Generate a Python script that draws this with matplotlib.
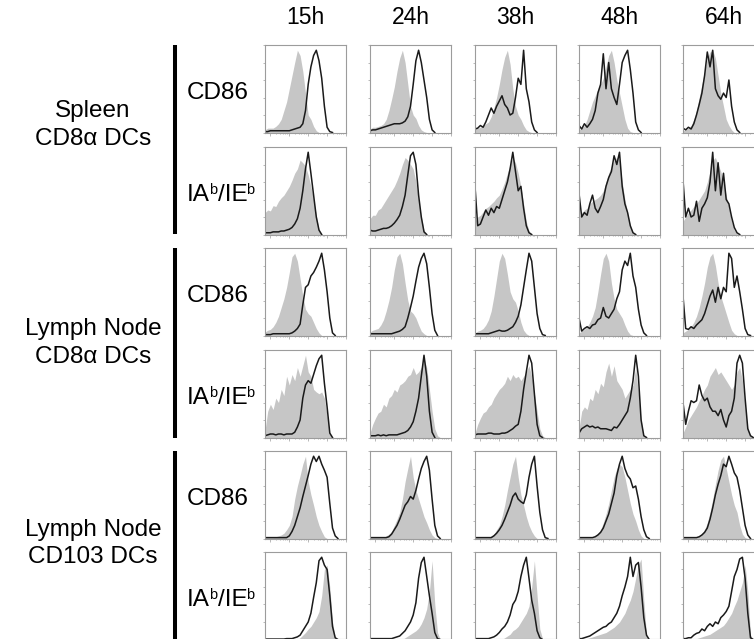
import numpy as np
import matplotlib
matplotlib.use("Agg")
import matplotlib.pyplot as plt

plt.rcParams["font.family"] = ["Liberation Sans", "DejaVu Sans"]

# ---------- Data (fraction of panel height, 31 channels across each panel) ----------
TIMES = ["15h", "24h", "38h", "48h", "64h"]
GROUPS = [("Spleen", "CD8\u03b1 DCs"), ("Lymph Node", "CD8\u03b1 DCs"), ("Lymph Node", "CD103 DCs")]
# marker labels as (text, is_superscript) pieces
MARKERS = [[("CD86", False)], [("IA", False), ("b", True), ("/IE", False), ("b", True)]]

# Spleen CD8a, CD86
spl_cd86_ctrl = [
    [0.03, 0.05, 0.05, 0.05, 0.07, 0.10, 0.15, 0.25, 0.35, 0.50, 0.65, 0.80, 0.94, 0.88, 0.70, 0.45, 0.20, 0.15, 0.07, 0.02, 0],
    [0.04, 0.06, 0.06, 0.07, 0.08, 0.10, 0.15, 0.25, 0.38, 0.52, 0.70, 0.85, 0.94, 0.80, 0.55, 0.30, 0.20, 0.16, 0.08, 0.03, 0.01, 0],
    [0.04, 0.05, 0.06, 0.08, 0.10, 0.12, 0.18, 0.28, 0.40, 0.55, 0.72, 0.86, 0.94, 0.78, 0.50, 0.30, 0.20, 0.15, 0.08, 0.03, 0.01, 0],
    [0.03, 0.05, 0.08, 0.15, 0.25, 0.35, 0.42, 0.50, 0.55, 0.62, 0.75, 0.88, 0.94, 0.80, 0.60, 0.45, 0.30, 0.15, 0.05, 0.01, 0],
    [0.02, 0.03, 0.05, 0.08, 0.15, 0.25, 0.40, 0.55, 0.70, 0.85, 0.92, 0.94, 0.85, 0.65, 0.45, 0.30, 0.15, 0.08, 0.03, 0],
]
spl_cd86_stim = [
    [0.01, 0.01, 0.02, 0.02, 0.02, 0.02, 0.02, 0.02, 0.02, 0.02, 0.03, 0.04, 0.05, 0.06, 0.10, 0.25, 0.55, 0.75, 0.88, 0.94, 0.82, 0.62, 0.30, 0.06, 0.01, 0],
    [0.02, 0.03, 0.03, 0.04, 0.05, 0.06, 0.07, 0.08, 0.09, 0.10, 0.10, 0.10, 0.11, 0.13, 0.18, 0.30, 0.55, 0.82, 0.94, 0.80, 0.60, 0.40, 0.15, 0.03, 0],
    [0.04, 0.05, 0.08, 0.06, 0.12, 0.20, 0.28, 0.22, 0.30, 0.36, 0.42, 0.32, 0.28, 0.20, 0.22, 0.40, 0.62, 0.55, 0.94, 0.50, 0.35, 0.12, 0.03, 0],
    [0.08, 0.04, 0.10, 0.06, 0.10, 0.15, 0.25, 0.45, 0.55, 0.90, 0.50, 0.80, 0.50, 0.40, 0.32, 0.55, 0.80, 0.88, 0.94, 0.72, 0.45, 0.12, 0.03, 0],
    [0.05, 0.03, 0.06, 0.04, 0.10, 0.20, 0.32, 0.45, 0.65, 0.92, 0.75, 0.94, 0.50, 0.42, 0.38, 0.45, 0.40, 0.60, 0.30, 0.12, 0.03, 0],
]

# Spleen CD8a, IAb/IEb
spl_mhc_ctrl = [
    [0.25, 0.28, 0.27, 0.33, 0.32, 0.38, 0.42, 0.45, 0.50, 0.55, 0.62, 0.70, 0.75, 0.85, 0.82, 0.78, 0.68, 0.55, 0.40, 0.22, 0.05, 0],
    [0.18, 0.22, 0.22, 0.28, 0.30, 0.35, 0.40, 0.45, 0.50, 0.55, 0.62, 0.70, 0.80, 0.88, 0.85, 0.80, 0.75, 0.60, 0.40, 0.20, 0.05, 0],
    [0.15, 0.20, 0.22, 0.26, 0.30, 0.32, 0.35, 0.38, 0.42, 0.45, 0.52, 0.60, 0.70, 0.80, 0.88, 0.82, 0.70, 0.55, 0.35, 0.15, 0.04, 0],
    [0.20, 0.25, 0.28, 0.30, 0.35, 0.38, 0.40, 0.42, 0.45, 0.50, 0.60, 0.70, 0.78, 0.85, 0.88, 0.85, 0.60, 0.40, 0.25, 0.10, 0.02, 0],
    [0.15, 0.20, 0.25, 0.28, 0.32, 0.35, 0.40, 0.45, 0.50, 0.60, 0.72, 0.85, 0.88, 0.80, 0.72, 0.60, 0.45, 0.30, 0.15, 0.05, 0.01, 0],
]
spl_mhc_stim = [
    [0.02, 0.02, 0.02, 0.03, 0.03, 0.03, 0.04, 0.04, 0.05, 0.06, 0.08, 0.12, 0.18, 0.30, 0.50, 0.75, 0.94, 0.70, 0.45, 0.20, 0.05, 0],
    [0.05, 0.04, 0.04, 0.05, 0.06, 0.07, 0.07, 0.08, 0.10, 0.13, 0.17, 0.22, 0.32, 0.45, 0.68, 0.90, 0.94, 0.80, 0.45, 0.20, 0.03, 0],
    [0.55, 0.10, 0.12, 0.20, 0.28, 0.22, 0.30, 0.25, 0.32, 0.30, 0.40, 0.50, 0.60, 0.75, 0.94, 0.72, 0.50, 0.55, 0.30, 0.10, 0.02, 0],
    [0.47, 0.20, 0.25, 0.22, 0.35, 0.45, 0.30, 0.25, 0.32, 0.40, 0.55, 0.65, 0.72, 0.90, 0.80, 0.94, 0.55, 0.35, 0.25, 0.10, 0.02, 0],
    [0.62, 0.20, 0.30, 0.20, 0.22, 0.38, 0.15, 0.30, 0.35, 0.42, 0.60, 0.94, 0.50, 0.82, 0.45, 0.70, 0.40, 0.35, 0.20, 0.08, 0.02, 0],
]

# Lymph node CD8a, CD86
ln8_cd86_ctrl = [
    [0.04, 0.06, 0.07, 0.10, 0.15, 0.22, 0.32, 0.42, 0.55, 0.72, 0.90, 0.94, 0.85, 0.65, 0.45, 0.30, 0.25, 0.22, 0.15, 0.08, 0.03, 0],
    [0.04, 0.06, 0.07, 0.08, 0.12, 0.18, 0.28, 0.40, 0.55, 0.75, 0.90, 0.94, 0.82, 0.60, 0.40, 0.28, 0.25, 0.20, 0.12, 0.05, 0.02, 0],
    [0.03, 0.05, 0.06, 0.08, 0.12, 0.18, 0.28, 0.45, 0.65, 0.85, 0.94, 0.88, 0.70, 0.50, 0.42, 0.38, 0.28, 0.15, 0.06, 0.02, 0],
    [0.03, 0.05, 0.07, 0.10, 0.15, 0.22, 0.32, 0.50, 0.70, 0.88, 0.94, 0.85, 0.60, 0.42, 0.30, 0.25, 0.20, 0.12, 0.05, 0.01, 0],
    [0.03, 0.05, 0.07, 0.10, 0.15, 0.22, 0.32, 0.45, 0.60, 0.78, 0.90, 0.94, 0.80, 0.60, 0.45, 0.35, 0.25, 0.15, 0.06, 0.02, 0],
]
ln8_cd86_stim = [
    [0.01, 0.01, 0.01, 0.02, 0.02, 0.02, 0.02, 0.02, 0.02, 0.02, 0.03, 0.05, 0.08, 0.13, 0.35, 0.55, 0.58, 0.68, 0.72, 0.78, 0.85, 0.94, 0.75, 0.50, 0.20, 0.03, 0],
    [0.02, 0.02, 0.02, 0.02, 0.02, 0.02, 0.02, 0.02, 0.02, 0.03, 0.04, 0.05, 0.07, 0.10, 0.20, 0.32, 0.45, 0.62, 0.78, 0.88, 0.94, 0.82, 0.55, 0.25, 0.06, 0],
    [0.02, 0.02, 0.02, 0.02, 0.02, 0.02, 0.03, 0.04, 0.05, 0.06, 0.05, 0.05, 0.06, 0.08, 0.10, 0.15, 0.22, 0.35, 0.55, 0.75, 0.94, 0.85, 0.55, 0.25, 0.08, 0.01, 0],
    [0.20, 0.05, 0.08, 0.10, 0.08, 0.12, 0.13, 0.18, 0.20, 0.32, 0.22, 0.20, 0.25, 0.30, 0.42, 0.50, 0.75, 0.85, 0.80, 0.94, 0.68, 0.55, 0.30, 0.12, 0.03, 0],
    [0.45, 0.08, 0.07, 0.10, 0.08, 0.12, 0.15, 0.18, 0.25, 0.35, 0.45, 0.52, 0.38, 0.55, 0.42, 0.55, 0.50, 0.94, 0.88, 0.55, 0.68, 0.50, 0.30, 0.08, 0.01, 0],
]

# Lymph node CD8a, IAb/IEb
ln8_mhc_ctrl = [
    [0.08, 0.30, 0.38, 0.32, 0.45, 0.40, 0.55, 0.48, 0.70, 0.60, 0.72, 0.65, 0.80, 0.70, 0.82, 0.94, 0.75, 0.70, 0.55, 0.52, 0.50, 0.52, 0.45, 0.25, 0.04, 0],
    [0.05, 0.15, 0.22, 0.28, 0.30, 0.38, 0.35, 0.45, 0.48, 0.55, 0.52, 0.60, 0.62, 0.65, 0.70, 0.72, 0.80, 0.72, 0.75, 0.80, 0.90, 0.80, 0.55, 0.30, 0.10, 0.02, 0],
    [0.05, 0.15, 0.22, 0.28, 0.30, 0.35, 0.38, 0.45, 0.50, 0.55, 0.58, 0.62, 0.70, 0.65, 0.72, 0.68, 0.70, 0.65, 0.70, 0.75, 0.82, 0.70, 0.50, 0.30, 0.10, 0.02, 0],
    [0.10, 0.30, 0.35, 0.32, 0.45, 0.42, 0.55, 0.50, 0.62, 0.58, 0.75, 0.85, 0.70, 0.82, 0.65, 0.60, 0.55, 0.45, 0.50, 0.55, 0.60, 0.80, 0.50, 0.20, 0.02, 0],
    [0.05, 0.12, 0.20, 0.25, 0.30, 0.35, 0.42, 0.48, 0.55, 0.60, 0.70, 0.75, 0.80, 0.72, 0.75, 0.70, 0.65, 0.60, 0.55, 0.60, 0.75, 0.80, 0.65, 0.35, 0.10, 0.02, 0],
]
ln8_mhc_stim = [
    [0.02, 0.03, 0.04, 0.04, 0.03, 0.04, 0.04, 0.03, 0.04, 0.04, 0.04, 0.06, 0.12, 0.20, 0.45, 0.60, 0.65, 0.62, 0.72, 0.82, 0.90, 0.94, 0.62, 0.35, 0.05, 0],
    [0.02, 0.02, 0.02, 0.03, 0.02, 0.03, 0.02, 0.03, 0.03, 0.03, 0.03, 0.04, 0.05, 0.06, 0.08, 0.12, 0.18, 0.30, 0.45, 0.70, 0.94, 0.70, 0.30, 0.06, 0],
    [0.03, 0.04, 0.04, 0.04, 0.04, 0.05, 0.05, 0.04, 0.04, 0.04, 0.05, 0.05, 0.06, 0.08, 0.10, 0.13, 0.15, 0.30, 0.55, 0.75, 0.94, 0.85, 0.50, 0.15, 0.02, 0],
    [0.05, 0.10, 0.12, 0.14, 0.12, 0.13, 0.11, 0.12, 0.10, 0.10, 0.10, 0.09, 0.08, 0.12, 0.11, 0.15, 0.20, 0.25, 0.30, 0.45, 0.65, 0.94, 0.70, 0.20, 0.02, 0],
    [0.40, 0.15, 0.30, 0.42, 0.40, 0.42, 0.60, 0.48, 0.42, 0.45, 0.35, 0.30, 0.30, 0.25, 0.32, 0.20, 0.12, 0.25, 0.30, 0.45, 0.85, 0.94, 0.85, 0.45, 0.10, 0.02, 0],
]

# Lymph node CD103, CD86
ln103_cd86_ctrl = [
    [0.01, 0.01, 0.01, 0.01, 0.02, 0.03, 0.04, 0.06, 0.10, 0.15, 0.25, 0.45, 0.60, 0.72, 0.85, 0.94, 0.65, 0.50, 0.38, 0.25, 0.15, 0.08, 0.02, 0],
    [0.01, 0.01, 0.01, 0.01, 0.01, 0.01, 0.03, 0.05, 0.08, 0.15, 0.22, 0.30, 0.45, 0.65, 0.80, 0.94, 0.70, 0.55, 0.45, 0.35, 0.25, 0.18, 0.10, 0.04, 0.01, 0],
    [0.01, 0.01, 0.01, 0.01, 0.01, 0.01, 0.03, 0.05, 0.10, 0.15, 0.25, 0.38, 0.55, 0.70, 0.85, 0.94, 0.70, 0.50, 0.38, 0.25, 0.15, 0.08, 0.03, 0],
    [0.01, 0.01, 0.01, 0.01, 0.01, 0.01, 0.03, 0.06, 0.10, 0.18, 0.28, 0.40, 0.55, 0.70, 0.80, 0.85, 0.82, 0.70, 0.55, 0.40, 0.28, 0.20, 0.10, 0.03, 0],
    [0.01, 0.01, 0.01, 0.01, 0.01, 0.01, 0.03, 0.06, 0.10, 0.18, 0.30, 0.45, 0.62, 0.78, 0.90, 0.94, 0.80, 0.65, 0.50, 0.38, 0.30, 0.15, 0.05, 0.01, 0],
]
ln103_cd86_stim = [
    [0.01, 0.01, 0.01, 0.01, 0.01, 0.01, 0.01, 0.01, 0.01, 0.03, 0.08, 0.15, 0.25, 0.35, 0.48, 0.60, 0.72, 0.85, 0.94, 0.88, 0.94, 0.85, 0.78, 0.70, 0.40, 0.12, 0.03, 0],
    [0.01, 0.01, 0.01, 0.01, 0.01, 0.01, 0.01, 0.02, 0.05, 0.10, 0.15, 0.22, 0.30, 0.38, 0.42, 0.48, 0.45, 0.55, 0.68, 0.80, 0.88, 0.94, 0.78, 0.45, 0.15, 0.03, 0],
    [0.01, 0.01, 0.01, 0.01, 0.01, 0.01, 0.01, 0.03, 0.06, 0.10, 0.15, 0.22, 0.30, 0.38, 0.48, 0.52, 0.45, 0.42, 0.40, 0.50, 0.70, 0.85, 0.94, 0.60, 0.30, 0.10, 0.01, 0],
    [0.01, 0.01, 0.01, 0.01, 0.01, 0.01, 0.02, 0.04, 0.07, 0.12, 0.20, 0.28, 0.40, 0.52, 0.72, 0.85, 0.94, 0.80, 0.72, 0.68, 0.58, 0.60, 0.45, 0.25, 0.10, 0.02, 0],
    [0.01, 0.01, 0.01, 0.01, 0.01, 0.01, 0.02, 0.04, 0.07, 0.12, 0.22, 0.35, 0.50, 0.62, 0.72, 0.85, 0.82, 0.94, 0.85, 0.75, 0.70, 0.55, 0.35, 0.15, 0.04, 0],
]

# Lymph node CD103, IAb/IEb
ln103_mhc_ctrl = [
    [0, 0, 0, 0, 0, 0, 0, 0, 0, 0, 0, 0, 0, 0.02, 0.05, 0.08, 0.12, 0.15, 0.20, 0.25, 0.32, 0.50, 0.80, 0.85, 0.60, 0.20, 0.02, 0],
    [0, 0, 0, 0, 0, 0, 0, 0, 0, 0, 0, 0, 0, 0.02, 0.04, 0.06, 0.08, 0.10, 0.13, 0.18, 0.25, 0.35, 0.55, 0.90, 0.40, 0.08, 0],
    [0, 0, 0, 0, 0, 0, 0, 0, 0, 0, 0, 0.02, 0.04, 0.06, 0.10, 0.12, 0.15, 0.20, 0.25, 0.30, 0.38, 0.60, 0.90, 0.50, 0.12, 0.01, 0],
    [0.01, 0.01, 0.01, 0.01, 0.02, 0.03, 0.04, 0.05, 0.06, 0.07, 0.08, 0.10, 0.12, 0.14, 0.17, 0.20, 0.25, 0.30, 0.38, 0.45, 0.55, 0.70, 0.85, 0.92, 0.45, 0.05, 0],
    [0.01, 0.01, 0.01, 0.01, 0.01, 0.01, 0.02, 0.03, 0.04, 0.05, 0.06, 0.08, 0.10, 0.12, 0.14, 0.16, 0.20, 0.25, 0.30, 0.38, 0.45, 0.55, 0.65, 0.85, 0.55, 0.05, 0],
]
ln103_mhc_stim = [
    [0.005, 0.005, 0.005, 0.005, 0.005, 0.005, 0.005, 0.005, 0.01, 0.01, 0.01, 0.02, 0.03, 0.05, 0.10, 0.15, 0.20, 0.30, 0.48, 0.65, 0.90, 0.94, 0.85, 0.80, 0.50, 0.15, 0.02, 0],
    [0.01, 0.01, 0.01, 0.01, 0.01, 0.01, 0.01, 0.01, 0.01, 0.02, 0.03, 0.04, 0.07, 0.10, 0.15, 0.20, 0.28, 0.42, 0.70, 0.88, 0.94, 0.72, 0.50, 0.30, 0.08, 0.01, 0],
    [0.01, 0.01, 0.01, 0.01, 0.01, 0.01, 0.02, 0.03, 0.05, 0.08, 0.12, 0.15, 0.20, 0.28, 0.40, 0.45, 0.55, 0.72, 0.85, 0.94, 0.70, 0.45, 0.30, 0.10, 0.02, 0],
    [0.01, 0.01, 0.02, 0.03, 0.04, 0.06, 0.08, 0.10, 0.12, 0.14, 0.15, 0.18, 0.20, 0.25, 0.30, 0.38, 0.50, 0.60, 0.72, 0.94, 0.72, 0.85, 0.88, 0.60, 0.25, 0.05, 0],
    [0.01, 0.01, 0.02, 0.02, 0.05, 0.07, 0.08, 0.12, 0.10, 0.15, 0.18, 0.15, 0.20, 0.18, 0.25, 0.28, 0.32, 0.38, 0.55, 0.72, 0.80, 0.92, 0.94, 0.70, 0.30, 0.02, 0],
]

ROWS = [
    (spl_cd86_ctrl, spl_cd86_stim),
    (spl_mhc_ctrl, spl_mhc_stim),
    (ln8_cd86_ctrl, ln8_cd86_stim),
    (ln8_mhc_ctrl, ln8_mhc_stim),
    (ln103_cd86_ctrl, ln103_cd86_stim),
    (ln103_mhc_ctrl, ln103_mhc_stim),
]

# ---------- Layout (pixels of a 754 x 639 canvas) ----------
W, H = 754, 639
COL_LEFT = [265, 370, 475, 579, 683]
ROW_TOP = [45, 147, 248, 350, 451, 552]
PW, PH = 81, 87.5
GRAY = "#c6c6c6"
SPINE = "#9c9c9c"
FS = 17.5

fig = plt.figure(figsize=(W / 100, H / 100), dpi=100)
renderer = fig.canvas.get_renderer()


def fx(px):
    return px / W


def fy(py):
    return 1 - py / H


for r, (ctrl_row, stim_row) in enumerate(ROWS):
    for c in range(5):
        ax = fig.add_axes([fx(COL_LEFT[c]), fy(ROW_TOP[r] + PH), PW / W, PH / H])
        g = np.array(ctrl_row[c])
        b = np.array(stim_row[c])
        ax.fill_between(np.arange(len(g)), 0, g, color=GRAY, lw=0)
        ax.plot(np.arange(len(b)), b, color="#1a1a1a", lw=1.1)
        ax.set_xlim(0, 30)
        ax.set_ylim(0, 1)
        for s in ax.spines.values():
            s.set_color(SPINE)
            s.set_linewidth(0.8)
        ax.set_yticks([0, 0.2, 0.4, 0.6, 0.8, 1.0])
        ax.set_xticks([2, 9, 16, 23, 30])
        ax.set_xticks([4, 5.5, 6.5, 7.3, 8, 11, 12.5, 13.5, 14.3, 15,
                       18, 19.5, 20.5, 21.3, 22, 25, 26.5, 27.5, 28.3, 29], minor=True)
        ax.tick_params(which="both", direction="out", length=1.8, width=0.5,
                       color=SPINE, labelleft=False, labelbottom=False)
        ax.tick_params(which="minor", length=1.0)

# column titles
for c, t in enumerate(TIMES):
    fig.text(fx(COL_LEFT[c] + PW / 2), fy(18), t, ha="center", va="center", fontsize=16.5)

# marker labels, superscripts placed piece by piece
for r in range(6):
    x = 187.0
    base = ROW_TOP[r] + PH / 2 + 10.5
    for txt, sup in MARKERS[r % 2]:
        size = 10.5 if sup else FS
        rise = 7.5 if sup else 0
        t = fig.text(fx(x), fy(base - rise), txt, ha="left", va="baseline", fontsize=size)
        x += t.get_window_extent(renderer).width + (0.8 if sup else -1.0)

# group bars and labels
BAR_SPANS = [(45, 234), (248, 438), (451, 639)]
LABEL_Y = [(111, 139), (329, 357), (530, 557)]
for (y0, y1), (l1, l2), (t1, t2) in zip(BAR_SPANS, LABEL_Y, GROUPS):
    fig.add_artist(plt.Line2D([fx(175.3), fx(175.3)], [fy(y0), fy(y1)],
                              color="black", lw=2.9, solid_capstyle="butt"))
    fig.text(fx(93), fy(l1), t1, ha="center", va="center", fontsize=FS)
    fig.text(fx(93), fy(l2), t2, ha="center", va="center", fontsize=FS)

fig.savefig("out.png", dpi=100)
